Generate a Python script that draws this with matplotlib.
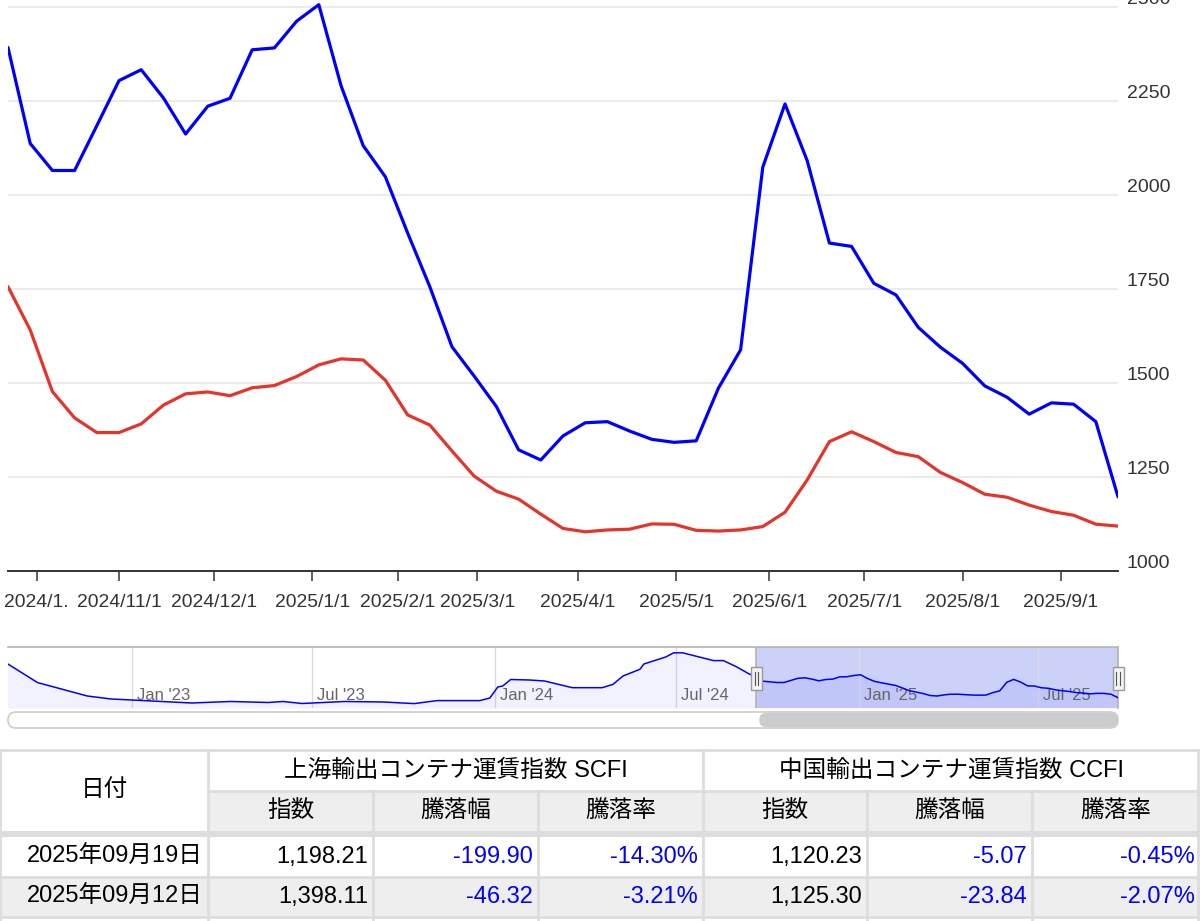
import datetime as dt
import numpy as np
import matplotlib
matplotlib.use("Agg")
import matplotlib.pyplot as plt
import matplotlib.dates as mdates
import matplotlib.transforms as mtransforms
from matplotlib.patches import Rectangle, FancyBboxPatch

# ---------------- data ----------------
dates = ["2024-09-20", "2024-09-27", "2024-10-11", "2024-10-18", "2024-10-25",
         "2024-11-01", "2024-11-08", "2024-11-15", "2024-11-22", "2024-11-29",
         "2024-12-06", "2024-12-13", "2024-12-20", "2024-12-27", "2025-01-03",
         "2025-01-10", "2025-01-17", "2025-01-24", "2025-02-07", "2025-02-14",
         "2025-02-21", "2025-02-28", "2025-03-07", "2025-03-14", "2025-03-21",
         "2025-03-28", "2025-04-03", "2025-04-11", "2025-04-18", "2025-04-25",
         "2025-04-30", "2025-05-09", "2025-05-16", "2025-05-23", "2025-05-30",
         "2025-06-06", "2025-06-13", "2025-06-20", "2025-06-27", "2025-07-04",
         "2025-07-11", "2025-07-18", "2025-07-25", "2025-08-01", "2025-08-08",
         "2025-08-15", "2025-08-22", "2025-08-29", "2025-09-05", "2025-09-12",
         "2025-09-19"]

scfi = [2393, 2138, 2066, 2066, 2185, 2305, 2334, 2259, 2163, 2237,
        2258, 2387, 2392, 2463, 2507, 2292, 2132, 2049, 1900, 1757,
        1597, 1519, 1438, 1323, 1296, 1360, 1395, 1398, 1373, 1351,
        1343, 1347, 1487, 1589, 2075, 2243, 2092, 1873, 1864, 1766,
        1735, 1649, 1596, 1553, 1493, 1463, 1418, 1448, 1444.43, 1398.11,
        1198.21]

ccfi = [1757, 1642, 1478, 1408, 1369, 1369, 1392, 1442, 1472, 1477,
        1467, 1488, 1494, 1518, 1549, 1565, 1562, 1508, 1416, 1389,
        1320, 1253, 1213, 1192, 1152, 1114, 1105, 1110, 1112, 1126,
        1125, 1109, 1107, 1110, 1119, 1157, 1243, 1345, 1371, 1345,
        1316, 1305, 1263, 1236, 1205, 1197, 1176, 1159, 1149.14, 1125.30,
        1120.23]

xtick_dates = ["2024-10-01", "2024-11-01", "2024-12-01", "2025-01-01", "2025-02-01",
               "2025-03-01", "2025-04-01", "2025-05-01", "2025-06-01", "2025-07-01",
               "2025-08-01", "2025-09-01"]
xtick_labels = ["2024/1.", "2024/11/1", "2024/12/1", "2025/1/1", "2025/2/1",
                "2025/3/1", "2025/4/1", "2025/5/1", "2025/6/1", "2025/7/1",
                "2025/8/1", "2025/9/1"]
ytick_values = [1000, 1250, 1500, 1750, 2000, 2250, 2500]

# navigator history (SCFI) before the selected range
nav_hist_dates = ["2022-08-28", "2022-09-28", "2022-10-17", "2022-11-17", "2022-12-11",
                  "2023-01-01", "2023-03-02", "2023-04-10", "2023-05-18", "2023-06-02",
                  "2023-06-21", "2023-08-03", "2023-09-11", "2023-10-12", "2023-11-04",
                  "2023-12-17", "2023-12-27", "2024-01-04", "2024-01-09", "2024-01-17",
                  "2024-02-05", "2024-02-20", "2024-03-19", "2024-04-18", "2024-04-29",
                  "2024-05-09", "2024-05-26", "2024-05-30", "2024-06-21", "2024-06-29",
                  "2024-07-08", "2024-08-08", "2024-08-18", "2024-08-31", "2024-09-13"]
nav_hist_values = [3160, 2060, 1770, 1296, 1125,
                   1068, 897, 983, 926, 983,
                   869, 983, 954, 863, 1034,
                   1034, 1182, 1809, 1866, 2236,
                   2208, 2151, 1770, 1770, 1963,
                   2436, 2818, 3120, 3519, 3758,
                   3758, 3314, 3314, 2966, 2550]
nav_label_dates = ["2023-01-01", "2023-07-01", "2024-01-01", "2024-07-01",
                   "2025-01-01", "2025-07-01"]
nav_labels = ["Jan '23", "Jul '23", "Jan '24", "Jul '24", "Jan '25", "Jul '25"]

table_date_header = "日付"
table_groups = ["上海輸出コンテナ運賃指数 SCFI", "中国輸出コンテナ運賃指数 CCFI"]
table_sub_headers = ["指数", "騰落幅", "騰落率"]
table_dates = ["2025年09月19日", "2025年09月12日"]
scfi_index = ["1,198.21", "1,398.11"]
scfi_change = ["-199.90", "-46.32"]
scfi_rate = ["-14.30%", "-3.21%"]
ccfi_index = ["1,120.23", "1,125.30"]
ccfi_change = ["-5.07", "-23.84"]
ccfi_rate = ["-0.45%", "-2.07%"]

# ---------------- figure ----------------
W, H = 1200, 921
fig = plt.figure(figsize=(W / 100, H / 100), dpi=100)
fig.patch.set_facecolor("white")
LAT = ["Liberation Sans", "DejaVu Sans"]
JP = ["Liberation Sans", "Noto Sans CJK JP", "DejaVu Sans"]

def d2n(s):
    return mdates.date2num(dt.datetime.strptime(s, "%Y-%m-%d"))

BLUE = "#0000ff"
RED = "#e6342a"

# ---------------- main chart ----------------
px_bottom = 571.3
ax = fig.add_axes([8 / W, 1 - px_bottom / H, 1110 / W, px_bottom / H])
idx = np.arange(len(dates))
date_num = np.array([d2n(s) for s in dates])
ax.set_xlim(0, len(dates) - 1)
ppu = (571.3 - 7.3) / 1500.0
ax.set_ylim(1000, 2500 + 7.3 / ppu)

for v in ytick_values[1:]:
    ax.axhline(v, color="#e6e6e6", lw=1.1, zorder=0)

ax.plot(idx, scfi, color=BLUE, lw=2.3, solid_joinstyle="round", solid_capstyle="round", zorder=3)
ax.plot(idx, ccfi, color=RED, lw=2.3, solid_joinstyle="round", solid_capstyle="round", zorder=2)

for s in ["top", "left", "right"]:
    ax.spines[s].set_visible(False)
ax.spines["bottom"].set_color("#333333")
ax.spines["bottom"].set_linewidth(1.4)
ax.set_yticks([])
tick_pos = np.interp([d2n(s) for s in xtick_dates], date_num, idx)
ax.set_xticks(tick_pos)
ax.set_xticklabels(xtick_labels, fontfamily=LAT, fontsize=13.9, color="#333333")
ax.tick_params(axis="x", length=7.2, width=1.1, color="#333333", pad=9.5)

off = mtransforms.ScaledTranslation(0.09, 0.034, fig.dpi_scale_trans)
for v in ytick_values:
    ax.text(1.0, v, f"{v}", transform=ax.get_yaxis_transform() + off,
            ha="left", va="baseline", fontsize=14, color="#333333",
            fontfamily=LAT, clip_on=False)

# ---------------- navigator ----------------
nav = fig.add_axes([8 / W, 1 - 708 / H, 1110 / W, 61 / H])
nav_x = [d2n(s) for s in nav_hist_dates] + list(date_num)
nav_y = list(nav_hist_values) + list(scfi)
d_j23 = d2n("2023-01-01")
d_end = date_num[-1]
ppd = (1118 - 132) / (d_end - d_j23)
nav_left = d_j23 - (132 - 8) / ppd
nav.set_xlim(nav_left, d_end)
nav.set_ylim(612, 4089)
nav.axvspan(date_num[0], d_end, color="#ccd1f8", lw=0, zorder=0.5)
for d, lab in zip(nav_label_dates, nav_labels):
    dn = d2n(d)
    nav.axvline(dn, color="#dcdcdc", lw=1, zorder=1)
    nav.text(dn, 0.21, lab, transform=nav.get_xaxis_transform() +
             mtransforms.ScaledTranslation(0.05, 0, fig.dpi_scale_trans),
             ha="left", va="center", fontsize=12, color="#666666", fontfamily=LAT, zorder=2)
nav.fill_between(nav_x, nav_y, 612, color=BLUE, alpha=0.05, lw=0, zorder=1.5)
nav.plot(nav_x, nav_y, color=BLUE, lw=1.1, zorder=3)
nav.axvline(date_num[0], color="#b3b3b3", lw=1.2, zorder=4)
nav.set_xticks([])
nav.set_yticks([])
for s in ["left", "bottom"]:
    nav.spines[s].set_visible(False)
nav.spines["top"].set_color("#b3b3b3")
nav.spines["right"].set_color("#b3b3b3")
nav.spines["top"].set_linewidth(1.2)
nav.spines["right"].set_linewidth(1.2)

fig.canvas.draw()
sel_left_px = nav.transData.transform((date_num[0], 0))[0]
sel_right_px = nav.transData.transform((d_end, 0))[0]

# ---------------- overlay (handles, scrollbar, table) ----------------
ov = fig.add_axes([0, 0, 1, 1], zorder=10)
ov.set_xlim(0, W)
ov.set_ylim(H, 0)
ov.axis("off")
ov.patch.set_visible(False)

for hx in [sel_left_px, sel_right_px]:
    ov.add_patch(Rectangle((hx - 5.5, 667), 11, 23, fc="#f2f2f2", ec="#999999", lw=1.0))
    ov.plot([hx - 1.7, hx - 1.7], [672, 685], color="#555555", lw=0.8)
    ov.plot([hx + 1.7, hx + 1.7], [672, 685], color="#555555", lw=0.8)

ov.add_patch(FancyBboxPatch((8, 712), 1110, 16, boxstyle="round,pad=0,rounding_size=8",
                            fc="white", ec="#cccccc", lw=1.2))
ov.add_patch(FancyBboxPatch((sel_left_px + 3, 713), sel_right_px - sel_left_px - 3, 14,
                            boxstyle="round,pad=0,rounding_size=7", fc="#cccccc", ec="none"))

# table
cols = [0, 208, 373, 538, 703, 867, 1032, 1200]
GRAY = "#eeeeee"
LINE = "#dddddd"
ov.add_patch(Rectangle((0, 750), W, 41, fc="white", ec="none"))
ov.add_patch(Rectangle((208, 791), W - 208, 40, fc=GRAY, ec="none"))
ov.add_patch(Rectangle((0, 831), W, 6, fc=LINE, ec="none"))
ov.add_patch(Rectangle((0, 877), W, 40, fc=GRAY, ec="none"))
lw_t = 2.0
ov.plot([0, W], [750, 750], color=LINE, lw=lw_t)
ov.plot([208, W], [791, 791], color=LINE, lw=lw_t)
ov.plot([0, W], [877, 877], color=LINE, lw=lw_t)
ov.plot([0, W], [917, 917], color=LINE, lw=lw_t)
for x in [0, 208, 703, 1198]:
    ov.plot([x, x], [750, 831], color=LINE, lw=lw_t)
for x in [373, 538, 867, 1032]:
    ov.plot([x, x], [791, 831], color=LINE, lw=lw_t)
for x in cols[:-1] + [1198]:
    ov.plot([x, x], [837, 921], color=LINE, lw=lw_t)

FS = 17
ov.text(104, 790, table_date_header, ha="center", va="center", fontsize=FS, fontfamily=JP, color="black")
ov.text((208 + 703) / 2, 771, table_groups[0], ha="center", va="center", fontsize=FS, fontfamily=JP, color="black")
ov.text((703 + 1200) / 2, 771, table_groups[1], ha="center", va="center", fontsize=FS, fontfamily=JP, color="black")
for i in range(6):
    cx = (cols[i + 1] + cols[i + 2]) / 2
    ov.text(cx, 811, table_sub_headers[i % 3], ha="center", va="center", fontsize=FS, fontfamily=JP, color="black")

row_y = [857, 897]
for r in range(2):
    vals = [table_dates[r], scfi_index[r], scfi_change[r], scfi_rate[r],
            ccfi_index[r], ccfi_change[r], ccfi_rate[r]]
    for c, val in enumerate(vals):
        color = BLUE if val.startswith("-") else "black"
        ov.text(cols[c + 1] - 5, row_y[r], val, ha="right", va="center", fontsize=FS,
                fontfamily=JP, color=color)

fig.savefig("out.png", dpi=100, facecolor="white")
